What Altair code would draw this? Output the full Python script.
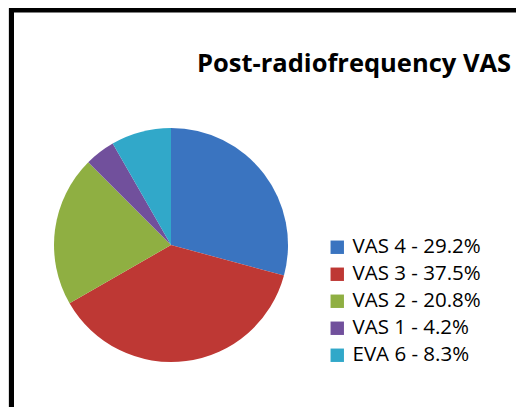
import altair as alt
import pandas as pd

labels = ["VAS 4 - 29.2%", "VAS 3 - 37.5%", "VAS 2 - 20.8%", "VAS 1 - 4.2%", "EVA 6 - 8.3%"]
values = [29.2, 37.5, 20.8, 4.2, 8.3]
order = [0, 1, 2, 3, 4]
colors = ["#3A74C0", "#BE3834", "#8FAF42", "#71509C", "#31A8C9"]
title_text = "Post-radiofrequency VAS"

df = pd.DataFrame({"label": labels, "value": values, "order": order})

W, H = 508, 399
CX, CY, R = 163, 237, 117

shadow = alt.Chart(pd.DataFrame({"v": [1]})).mark_arc(
    outerRadius=R + 1, color="#000000", opacity=0.12
).encode(theta=alt.Theta("v:Q"), x=alt.value(CX), y=alt.value(CY + 3))

pie = alt.Chart(df).mark_arc(outerRadius=R).encode(
    theta=alt.Theta("value:Q", stack=True),
    order=alt.Order("order:Q"),
    color=alt.Color(
        "label:N",
        scale=alt.Scale(domain=labels, range=colors),
        sort=labels,
        legend=alt.Legend(
            title=None,
            orient="none",
            legendX=319,
            legendY=229,
            symbolType="square",
            symbolSize=180,
            symbolStrokeWidth=0,
            labelFont="Open Sans",
            labelFontSize=20.5,
            labelColor="#000000",
            labelLimit=300,
            rowPadding=6,
            labelOffset=5,
            padding=0,
        ),
    ),
    x=alt.value(CX),
    y=alt.value(CY),
)

title = alt.Chart(pd.DataFrame({"t": [title_text]})).mark_text(
    font="Open Sans", fontSize=25.5, fontWeight="bold", color="#000000",
    align="left", baseline="alphabetic"
).encode(text="t:N", x=alt.value(189), y=alt.value(64))

left_border = alt.Chart(pd.DataFrame({"v": [1]})).mark_rule(
    color="#000000", strokeWidth=5
).encode(x=alt.value(3.5), y=alt.value(0), y2=alt.value(H))

top_border = alt.Chart(pd.DataFrame({"v": [1]})).mark_rule(
    color="#000000", strokeWidth=5
).encode(y=alt.value(2), x=alt.value(1), x2=alt.value(W))

chart = alt.layer(shadow, pie, title, left_border, top_border).properties(
    width=W, height=H, padding=0,
    autosize=alt.AutoSizeParams(type="none"),
).configure_view(stroke=None).configure(background="#ffffff")

chart.save("out.html", embed_options={"renderer": "svg", "actions": False})
